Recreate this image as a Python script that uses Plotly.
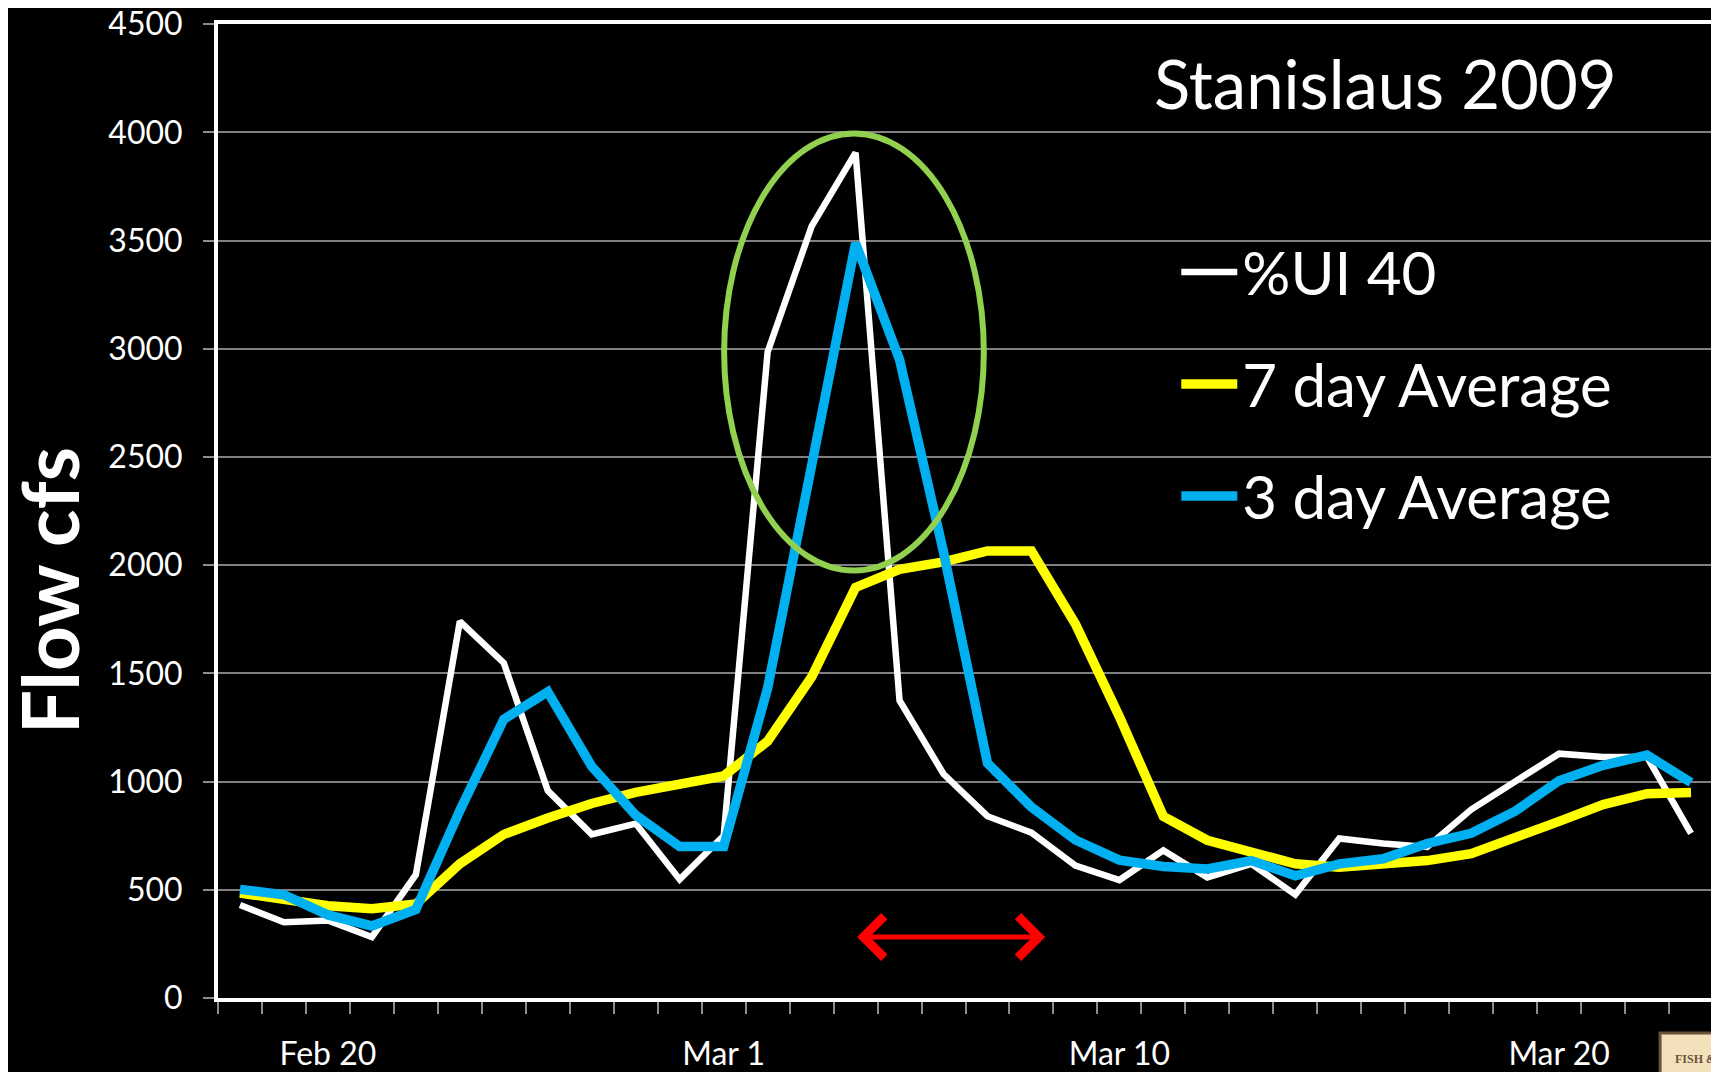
import plotly.graph_objects as go
import pandas as pd

# ---------------- data ----------------
dates = pd.date_range("2009-02-18", "2009-03-23", freq="D").strftime("%Y-%m-%d").tolist()

ui40 = [430, 350, 358, 282, 570, 1740, 1548, 958, 756, 806, 548,
        750, 2985, 3565, 3906, 1375, 1035, 840, 764, 612, 545, 682, 557, 620,
        478, 737, 714, 698, 871, 1004, 1129, 1114, 1114, 761]
avg7 = [485, 451, 426, 412, 434, 620, 756, 832, 899, 950, 984,
        1026, 1187, 1483, 1897, 1981, 2015, 2066, 2066, 1728, 1300, 839, 729, 675,
        620, 604, 620, 635, 667, 737, 816, 894, 944, 949]
avg3 = [502, 477, 384, 333, 409, 866, 1288, 1415, 1070, 845, 700,
        700, 1432, 2470, 3488, 2950, 2060, 1085, 882, 730, 637, 608, 596, 635,
        565, 620, 643, 714, 761, 863, 1004, 1075, 1122, 996]

series_names = ["%UI 40", "7 day Average", "3 day Average"]
series_colors = ["#FFFFFF", "#FFFF00", "#00B0F0"]
series_widths = [6.5, 9.5, 9.5]

tick_dates = ["2009-02-20", "2009-03-01", "2009-03-10", "2009-03-20"]
tick_labels = ["Feb 20", "Mar 1", "Mar 10", "Mar 20"]
y_ticks = [0, 500, 1000, 1500, 2000, 2500, 3000, 3500, 4000, 4500]

x_range = ["2009-02-17 12:00", "2009-03-23 12:00"]
y_range = [0, 4500.5]

# annotation geometry (data coordinates)
ellipse_x = ["2009-03-01 00:15", "2009-03-06 22:00"]
ellipse_y = [1975, 3995]
arrow_x = ["2009-03-04 00:00", "2009-03-08 07:30"]
arrow_y = 282

FONT = "Lato"

fig = go.Figure()
for name, vals, col, w in zip(series_names, [ui40, avg7, avg3], series_colors, series_widths):
    fig.add_trace(go.Scatter(
        x=dates, y=vals, name=name, mode="lines",
        line=dict(color=col, width=w),
        legendgroup=name,
    ))

fig.update_layout(
    width=1711, height=1064,
    margin=dict(l=210, r=6, t=16, b=74, autoexpand=False),
    paper_bgcolor="#000000", plot_bgcolor="#000000",
    font=dict(family=FONT, color="#FFFFFF"),
    showlegend=True,
    legend=dict(
        x=0.641, y=0.792, xanchor="left", yanchor="top",
        bgcolor="rgba(0,0,0,0)",
        font=dict(family=FONT, size=60, color="#FFFFFF"),
        tracegroupgap=31,
        itemwidth=56,
    ),
)

fig.update_xaxes(
    type="date", range=x_range, automargin=False,
    tickvals=tick_dates, ticktext=tick_labels,
    ticks="outside", ticklen=0, tickwidth=0,
    ticklabelstandoff=25, ticklabeloverflow="allow",
    tickfont=dict(family=FONT, size=32, color="#FFFFFF"),
    showgrid=False, zeroline=False,
    showline=True, linecolor="#FFFFFF", linewidth=4, mirror=True,
    minor=dict(ticks="outside", ticklen=12, tickwidth=1.5, tickcolor="#8C8C8C",
               tick0="2009-02-17 12:00", dtick=86400000, showgrid=False),
)
fig.update_yaxes(
    range=y_range, tickvals=y_ticks, automargin=False,
    ticks="outside", ticklen=11, tickwidth=1.5, tickcolor="#8C8C8C",
    ticklabelstandoff=14, ticklabeloverflow="allow",
    tickfont=dict(family=FONT, size=32, color="#FFFFFF"),
    showgrid=True, gridcolor="#808080", gridwidth=1.5,
    zeroline=False,
    showline=True, linecolor="#FFFFFF", linewidth=4, mirror=True,
)

# green ellipse
fig.add_shape(type="circle", xref="x", yref="y",
              x0=ellipse_x[0], x1=ellipse_x[1], y0=ellipse_y[0], y1=ellipse_y[1],
              line=dict(color="#92D050", width=6))

# red double arrow
fig.add_annotation(x=arrow_x[1], y=arrow_y, ax=arrow_x[0], ay=arrow_y,
                   xref="x", yref="y", axref="x", ayref="y",
                   text="", showarrow=True, arrowhead=4, startarrowhead=4,
                   arrowside="end+start", arrowsize=1.6, startarrowsize=1.6,
                   arrowwidth=5, arrowcolor="#FF0000")

# title inside plot
fig.add_annotation(text="Stanislaus 2009", xref="paper", yref="paper",
                   x=0.937, y=0.939, xanchor="right", yanchor="middle",
                   showarrow=False, font=dict(family=FONT, size=67, color="#FFFFFF"))

# y axis title
fig.add_annotation(text="<b>Flow cfs</b>", xref="paper", yref="paper",
                   x=-0.113, y=0.418, xanchor="center", yanchor="middle",
                   textangle=-90, showarrow=False,
                   font=dict(family=FONT, size=78, color="#FFFFFF"))

# corner logo (partially cut off)
fig.add_shape(type="rect", xref="paper", yref="paper",
              x0=0.9646, x1=1.01, y0=-0.084, y1=-0.036,
              fillcolor="#F3E1BC", line=dict(color="#6B5138", width=3), layer="above")
fig.add_annotation(text="<b>FISH &</b>", xref="paper", yref="paper",
                   x=0.973, y=-0.063, xanchor="left", yanchor="middle",
                   showarrow=False,
                   font=dict(family="Liberation Serif", size=12, color="#6B5138"))

fig.write_html("out.html")
